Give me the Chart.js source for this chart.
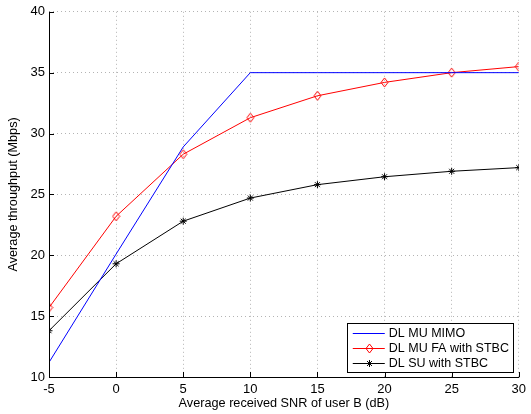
<!DOCTYPE html>
<html>
<head>
<meta charset="utf-8">
<script src="https://cdn.jsdelivr.net/npm/chart.js@4.4.1/dist/chart.umd.min.js"></script>
<style>
html,body{margin:0;padding:0;background:#fff;}
#wrap{width:531px;height:414px;position:relative;}
</style>
</head>
<body>
<div id="wrap"><canvas id="c" width="531" height="414"></canvas></div>
<script>
const snr = [-5, 0, 5, 10, 15, 20, 25, 30];
const muMimo = [11.2, 20.1, 28.9, 35, 35, 35, 35, 35];
const muFaStbc = [15.7, 23.2, 28.3, 31.3, 33.1, 34.2, 35.0, 35.5];
const suStbc = [13.8, 19.3, 22.8, 24.7, 25.8, 26.45, 26.9, 27.2];
const xTicks = [-5, 0, 5, 10, 15, 20, 25, 30];
const yTicks = [10, 15, 20, 25, 30, 35, 40];
const seriesNames = ['DL MU MIMO', 'DL MU FA with STBC', 'DL SU with STBC'];

const FONT = 'Liberation Sans, Arial, Helvetica, sans-serif';

// open diamond marker
function makeDiamond(color) {
  const cv = document.createElement('canvas');
  cv.width = 9; cv.height = 11;
  const g = cv.getContext('2d');
  g.strokeStyle = color; g.lineWidth = 1;
  g.beginPath();
  g.moveTo(4.5, 1); g.lineTo(8, 5.5); g.lineTo(4.5, 10); g.lineTo(1, 5.5); g.closePath();
  g.stroke();
  return cv;
}
const diamond = makeDiamond('#ff0000');

function pts(ys) { return snr.map((x, i) => ({x: x, y: ys[i]})); }

const datasets = [
  {label: seriesNames[0], data: pts(muMimo), borderColor: '#0000ff', backgroundColor: '#0000ff', borderWidth: 1, pointRadius: 0, pointStyle: false},
  {label: seriesNames[1], data: pts(muFaStbc), borderColor: '#ff0000', backgroundColor: 'rgba(0,0,0,0)', borderWidth: 1, pointStyle: diamond, pointRadius: 5},
  {label: seriesNames[2], data: pts(suStbc), borderColor: '#000000', backgroundColor: '#000000', borderWidth: 1, pointStyle: 'star', pointRadius: 3.5, pointBorderWidth: 1}
];

const innerTicks = {
  id: 'innerTicks',
  afterDraw(chart) {
    const ctx = chart.ctx, a = chart.chartArea;
    const xs = chart.scales.x, ys = chart.scales.y;
    ctx.save();
    ctx.strokeStyle = '#000'; ctx.lineWidth = 1;
    ctx.beginPath();
    xTicks.forEach(v => {
      const px = Math.round(xs.getPixelForValue(v)) + 0.5;
      ctx.moveTo(px, a.bottom); ctx.lineTo(px, a.bottom - 5);
    });
    yTicks.forEach(v => {
      const py = Math.round(ys.getPixelForValue(v)) + 0.5;
      ctx.moveTo(a.left, py); ctx.lineTo(a.left + 5, py);
    });
    ctx.stroke();
    // solid left and bottom axes
    ctx.beginPath();
    ctx.moveTo(Math.round(a.left) + 0.5, a.top); ctx.lineTo(Math.round(a.left) + 0.5, a.bottom + 0.5);
    ctx.moveTo(a.left, Math.round(a.bottom) + 0.5); ctx.lineTo(a.right + 0.5, Math.round(a.bottom) + 0.5);
    ctx.stroke();
    ctx.restore();
  }
};

const boxLegend = {
  id: 'boxLegend',
  afterDraw(chart) {
    const ctx = chart.ctx, a = chart.chartArea;
    const w = 166, h = 49;
    const right = a.right - 6, bottom = a.bottom - 5;
    const left = right - w, top = bottom - h;
    ctx.save();
    ctx.fillStyle = '#fff';
    ctx.fillRect(left, top, w, h);
    ctx.strokeStyle = '#000'; ctx.lineWidth = 1;
    ctx.strokeRect(Math.round(left) + 0.5, Math.round(top) + 0.5, w, h);
    ctx.font = '12.5px ' + FONT;
    ctx.textBaseline = 'middle';
    chart.data.datasets.forEach((ds, i) => {
      const y = Math.round(top + 10 + i * 15) + 0.5;
      const x0 = left + 6, x1 = left + 38;
      ctx.strokeStyle = ds.borderColor; ctx.lineWidth = 1;
      ctx.beginPath(); ctx.moveTo(x0, y); ctx.lineTo(x1, y); ctx.stroke();
      const cx = Math.round((x0 + x1) / 2) + 0.5;
      if (ds.pointStyle === diamond) {
        ctx.drawImage(diamond, Math.round(cx - 4.5), Math.round(y - 5.5));
      } else if (ds.pointStyle === 'star') {
        const r = 3.5;
        ctx.strokeStyle = ds.borderColor;
        ctx.beginPath();
        ctx.moveTo(cx - r, y); ctx.lineTo(cx + r, y);
        ctx.moveTo(cx, y - r); ctx.lineTo(cx, y + r);
        const d = r * 0.707;
        ctx.moveTo(cx - d, y - d); ctx.lineTo(cx + d, y + d);
        ctx.moveTo(cx - d, y + d); ctx.lineTo(cx + d, y - d);
        ctx.stroke();
      }
      ctx.fillStyle = '#000';
      ctx.fillText(ds.label, left + 42, y + 0.5);
    });
    ctx.restore();
  }
};

const gridCfg = {
  color: '#b4b4b4',
  lineWidth: 1,
  drawTicks: false
};

new Chart(document.getElementById('c'), {
  type: 'line',
  data: {datasets: datasets},
  plugins: [innerTicks, boxLegend],
  options: {
    responsive: false,
    animation: false,
    devicePixelRatio: 1,
    layout: {padding: {top: 7, right: 12, left: 0, bottom: 0}},
    plugins: {legend: {display: false}, tooltip: {enabled: false}},
    scales: {
      x: {
        type: 'linear', min: -5, max: 30,
        afterBuildTicks(s) { s.ticks = xTicks.map(v => ({value: v})); },
        afterFit(s) { s.height = 37; },
        grid: Object.assign({}, gridCfg),
        border: {display: false, dash: [1, 3]},
        ticks: {color: '#000', font: {family: FONT, size: 13}, padding: 5, maxRotation: 0},
        title: {display: true, text: 'Average received SNR of user B (dB)', color: '#000', font: {family: FONT, size: 12.7}, padding: {top: 0, bottom: 3}}
      },
      y: {
        type: 'linear', min: 10, max: 40,
        afterBuildTicks(s) { s.ticks = yTicks.map(v => ({value: v})); },
        afterFit(s) { s.width = 49; },
        grid: Object.assign({}, gridCfg),
        border: {display: false, dash: [1, 3]},
        ticks: {color: '#000', font: {family: FONT, size: 13}, padding: 4},
        title: {display: true, text: 'Average throughput (Mbps)', color: '#000', font: {family: FONT, size: 12.7}, padding: {top: 6, bottom: 0}}
      }
    }
  }
});
</script>
</body>
</html>
